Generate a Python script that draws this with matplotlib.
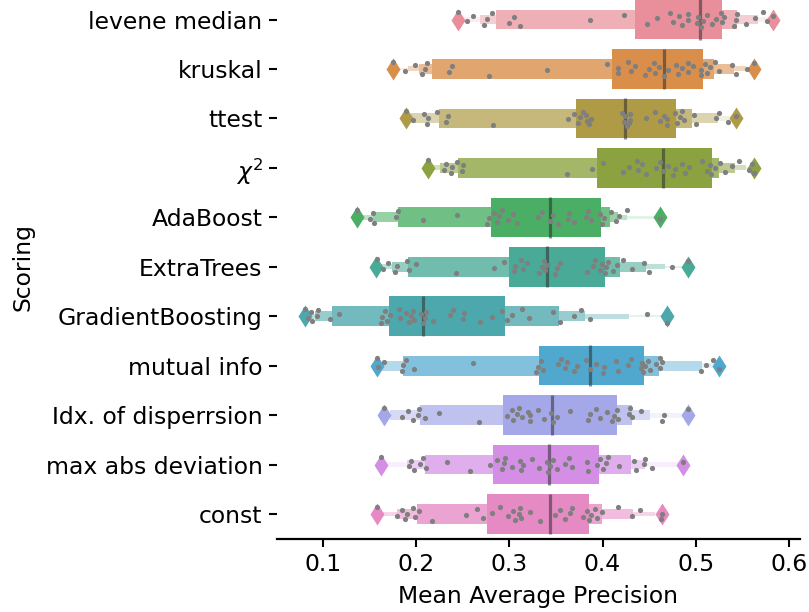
import numpy as np
import matplotlib
matplotlib.use("Agg")
import matplotlib.pyplot as plt
from matplotlib.colors import to_rgb


# scoring methods (top to bottom)
labels = ["levene median", "kruskal", "ttest", r"$\chi^2$", "AdaBoost", "ExtraTrees",
          "GradientBoosting", "mutual info", "Idx. of disperrsion", "max abs deviation", "const"]
colors = ["#e88f9b", "#d98e4a", "#af9b46", "#8aa340", "#4aaf65", "#49aa97",
          "#4ca8ad", "#50a8cf", "#a5a8e8", "#d48ee6", "#e68ac4"]

medians = [0.504, 0.466, 0.424, 0.465, 0.344, 0.340, 0.208, 0.387, 0.346, 0.343, 0.344]

# letter-value box ends, innermost level first
box_lo = [[0.435, 0.286, 0.269, 0.247],
          [0.410, 0.217, 0.203, 0.191, 0.183],
          [0.372, 0.225, 0.195, 0.190],
          [0.394, 0.245, 0.226, 0.215, 0.214],
          [0.280, 0.181, 0.154, 0.141, 0.138],
          [0.300, 0.191, 0.174, 0.161, 0.158],
          [0.171, 0.110, 0.092, 0.085, 0.082],
          [0.332, 0.186, 0.164, 0.159],
          [0.293, 0.204, 0.172, 0.166],
          [0.283, 0.210, 0.190, 0.165],
          [0.276, 0.201, 0.180, 0.165, 0.158]]
box_hi = [[0.528, 0.544, 0.567, 0.581],
          [0.508, 0.519, 0.541, 0.554, 0.560],
          [0.479, 0.496, 0.524, 0.538],
          [0.517, 0.525, 0.542, 0.554, 0.560],
          [0.398, 0.408, 0.417, 0.426, 0.458],
          [0.403, 0.419, 0.447, 0.467, 0.490],
          [0.295, 0.353, 0.381, 0.428, 0.467],
          [0.444, 0.460, 0.507, 0.523],
          [0.415, 0.431, 0.451, 0.490],
          [0.396, 0.430, 0.445, 0.484],
          [0.385, 0.399, 0.433, 0.456, 0.463]]

out_lo = [0.245, 0.175, 0.189, 0.213, 0.137, 0.157, 0.081, 0.158, 0.166, 0.163, 0.158]
out_hi = [0.583, 0.562, 0.543, 0.562, 0.461, 0.492, 0.469, 0.525, 0.492, 0.486, 0.464]

# individual runs
levene_pts = [0.245, 0.255, 0.261, 0.273, 0.276, 0.281, 0.300, 0.305, 0.311, 0.387, 0.423,
              0.448, 0.458, 0.472, 0.476, 0.482, 0.485, 0.492, 0.492, 0.501, 0.502, 0.506,
              0.508, 0.512, 0.517, 0.522, 0.527, 0.528, 0.530, 0.541, 0.543, 0.544, 0.554,
              0.563, 0.572, 0.576, 0.583]
kruskal_pts = [0.175, 0.188, 0.199, 0.206, 0.210, 0.212, 0.235, 0.239, 0.278, 0.340, 0.405,
               0.416, 0.417, 0.427, 0.430, 0.435, 0.445, 0.450, 0.455, 0.456, 0.460, 0.466,
               0.470, 0.479, 0.481, 0.485, 0.492, 0.492, 0.497, 0.506, 0.506, 0.510, 0.512,
               0.515, 0.520, 0.525, 0.539, 0.543, 0.555, 0.562]
ttest_pts = [0.189, 0.197, 0.209, 0.212, 0.213, 0.222, 0.232, 0.234, 0.282, 0.363, 0.369,
             0.374, 0.376, 0.379, 0.383, 0.382, 0.385, 0.388, 0.421, 0.423, 0.424, 0.426,
             0.429, 0.429, 0.428, 0.447, 0.456, 0.461, 0.466, 0.469, 0.469, 0.478, 0.480,
             0.483, 0.485, 0.487, 0.498, 0.500, 0.522, 0.525, 0.534, 0.543]
chi2_pts = [0.213, 0.230, 0.232, 0.238, 0.239, 0.244, 0.249, 0.250, 0.362, 0.389, 0.400,
            0.422, 0.428, 0.437, 0.438, 0.442, 0.447, 0.457, 0.462, 0.465, 0.470, 0.475,
            0.478, 0.485, 0.488, 0.493, 0.507, 0.512, 0.515, 0.516, 0.521, 0.526, 0.531,
            0.539, 0.546, 0.557, 0.560, 0.562]
ada_pts = [0.137, 0.151, 0.154, 0.155, 0.179, 0.181, 0.207, 0.244, 0.276, 0.278, 0.284,
           0.287, 0.289, 0.292, 0.299, 0.304, 0.308, 0.331, 0.335, 0.344, 0.347, 0.352,
           0.363, 0.364, 0.369, 0.382, 0.384, 0.388, 0.397, 0.399, 0.401, 0.409, 0.414,
           0.418, 0.426, 0.461]
extra_pts = [0.158, 0.165, 0.170, 0.178, 0.180, 0.190, 0.192, 0.200, 0.243, 0.284, 0.294,
             0.305, 0.306, 0.313, 0.315, 0.319, 0.332, 0.335, 0.337, 0.338, 0.340, 0.349,
             0.351, 0.354, 0.383, 0.390, 0.392, 0.397, 0.399, 0.403, 0.404, 0.406, 0.411,
             0.415, 0.422, 0.432, 0.444, 0.450, 0.474, 0.492]
gb_pts = [0.081, 0.084, 0.087, 0.088, 0.094, 0.095, 0.108, 0.117, 0.163, 0.164, 0.167,
          0.169, 0.172, 0.182, 0.183, 0.189, 0.193, 0.195, 0.197, 0.198, 0.205, 0.208,
          0.210, 0.211, 0.218, 0.236, 0.240, 0.250, 0.251, 0.269, 0.281, 0.292, 0.297,
          0.303, 0.314, 0.321, 0.347, 0.354, 0.369, 0.377, 0.386, 0.448, 0.469]
mutual_pts = [0.158, 0.159, 0.166, 0.185, 0.186, 0.189, 0.198, 0.261, 0.329, 0.331, 0.334,
              0.336, 0.352, 0.355, 0.360, 0.362, 0.369, 0.373, 0.382, 0.387, 0.393, 0.400,
              0.402, 0.414, 0.417, 0.427, 0.430, 0.441, 0.442, 0.443, 0.445, 0.449, 0.451,
              0.457, 0.461, 0.461, 0.464, 0.505, 0.511, 0.518, 0.525]
idx_pts = [0.166, 0.185, 0.191, 0.197, 0.202, 0.203, 0.210, 0.225, 0.267, 0.297, 0.303,
           0.304, 0.308, 0.310, 0.314, 0.320, 0.322, 0.322, 0.331, 0.337, 0.345, 0.347,
           0.351, 0.365, 0.384, 0.387, 0.393, 0.397, 0.405, 0.410, 0.412, 0.415, 0.417,
           0.428, 0.429, 0.431, 0.441, 0.464, 0.466, 0.492]
maxabs_pts = [0.163, 0.192, 0.195, 0.198, 0.204, 0.208, 0.211, 0.233, 0.258, 0.279, 0.287,
              0.292, 0.294, 0.295, 0.303, 0.312, 0.313, 0.315, 0.324, 0.332, 0.340, 0.342,
              0.344, 0.347, 0.351, 0.360, 0.364, 0.367, 0.383, 0.384, 0.394, 0.397, 0.400,
              0.404, 0.406, 0.418, 0.434, 0.436, 0.444, 0.445, 0.453, 0.486]
const_pts = [0.158, 0.180, 0.185, 0.188, 0.190, 0.197, 0.199, 0.203, 0.217, 0.254, 0.265,
             0.272, 0.281, 0.290, 0.299, 0.304, 0.306, 0.310, 0.312, 0.313, 0.322, 0.333,
             0.349, 0.354, 0.360, 0.365, 0.367, 0.379, 0.383, 0.385, 0.388, 0.392, 0.394,
             0.399, 0.417, 0.431, 0.440, 0.463, 0.464]
points = [levene_pts, kruskal_pts, ttest_pts, chi2_pts, ada_pts, extra_pts,
          gb_pts, mutual_pts, idx_pts, maxabs_pts, const_pts]


def tint(c, f):
    r = np.array(to_rgb(c))
    return tuple(r + (1 - r) * f)


fs = 16.9
plt.rcParams["font.family"] = ["DejaVu Sans"]
fig = plt.figure(figsize=(8.09, 6.12), dpi=100)
ax = fig.add_axes([277 / 809, 73.3 / 612, 523 / 809, 543.9 / 612])

for i, lab in enumerate(labels):
    lo, hi = box_lo[i], box_hi[i]
    k = len(lo)
    # outer (thin, light) levels first so the inner box sits on top
    for j in range(k - 1, -1, -1):
        h = 0.8 * 2.0 ** (-j)
        ax.barh(i, hi[j] - lo[j], left=lo[j], height=h,
                color=tint(colors[i], 0.85 * j / (k - 1)), linewidth=0, zorder=1)
    ax.plot([medians[i], medians[i]], [i - 0.41, i + 0.41], color="#2e2e2e",
            alpha=0.55, lw=2.3, solid_capstyle="butt", zorder=2)
    ax.plot([out_lo[i], out_hi[i]], [i, i], ls="none", marker="d", ms=11.5,
            mfc=colors[i], mec="none", zorder=2)
    pts = np.array(points[i])
    jit = ((np.arange(len(pts)) * 0.6180339887) % 1 - 0.5) * 0.3
    ax.scatter(pts, i + jit, s=14, color="#7f7f7f", linewidths=0, zorder=3)

ax.set_xlim(0.051, 0.6116)
ax.set_ylim(10.5, -0.5)
ax.set_yticks(range(len(labels)))
ax.set_yticklabels(labels)
ax.set_xticks([0.1, 0.2, 0.3, 0.4, 0.5, 0.6])
ax.set_xticklabels(["0.1", "0.2", "0.3", "0.4", "0.5", "0.6"])
ax.tick_params(axis="both", labelsize=fs, colors="black", length=6, width=1.5, pad=4.5)
for s in ["top", "right", "left"]:
    ax.spines[s].set_visible(False)
ax.spines["bottom"].set_linewidth(1.6)
ax.spines["bottom"].set_color("black")
ax.set_xlabel("Mean Average Precision", fontsize=fs, color="black", labelpad=6)
ax.set_ylabel("Scoring", fontsize=fs, color="black", labelpad=8)

fig.savefig("out.png", dpi=100)
